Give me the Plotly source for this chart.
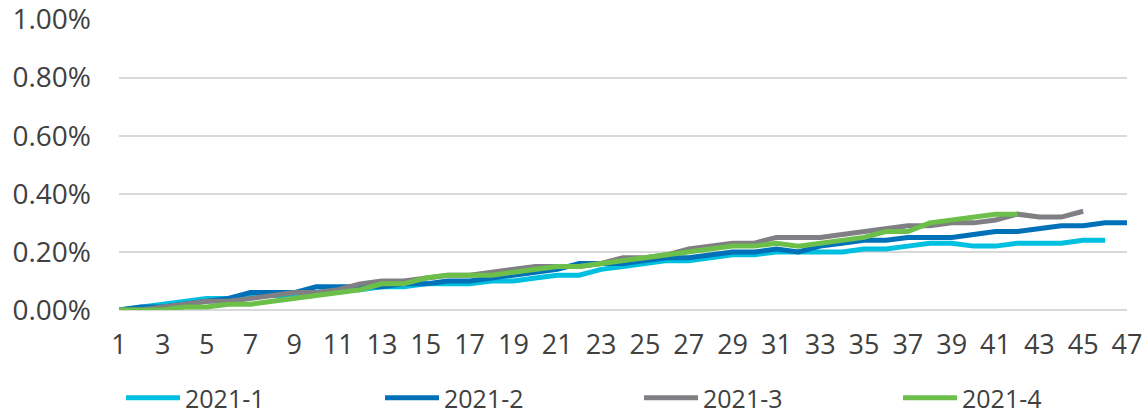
import plotly.graph_objects as go

periods = list(range(1, 48))

# values in percent
s2021_1 = [0.00, 0.01, 0.02, 0.03, 0.04, 0.04, 0.05, 0.05, 0.05, 0.06, 0.07, 0.07, 0.08, 0.08, 0.09, 0.09,
           0.09, 0.10, 0.10, 0.11, 0.12, 0.12, 0.14, 0.15, 0.16, 0.17, 0.17, 0.18, 0.19, 0.19, 0.20, 0.20,
           0.20, 0.20, 0.21, 0.21, 0.22, 0.23, 0.23, 0.22, 0.22, 0.23, 0.23, 0.23, 0.24, 0.24]
s2021_2 = [0.00, 0.01, 0.01, 0.02, 0.03, 0.04, 0.06, 0.06, 0.06, 0.08, 0.08, 0.08, 0.08, 0.09, 0.09, 0.10,
           0.10, 0.11, 0.12, 0.13, 0.14, 0.16, 0.16, 0.16, 0.17, 0.18, 0.18, 0.19, 0.20, 0.20, 0.21, 0.20,
           0.22, 0.23, 0.24, 0.24, 0.25, 0.25, 0.25, 0.26, 0.27, 0.27, 0.28, 0.29, 0.29, 0.30, 0.30]
s2021_3 = [0.00, 0.00, 0.01, 0.02, 0.03, 0.03, 0.04, 0.05, 0.06, 0.06, 0.07, 0.09, 0.10, 0.10, 0.11, 0.12,
           0.12, 0.13, 0.14, 0.15, 0.15, 0.15, 0.16, 0.18, 0.18, 0.19, 0.21, 0.22, 0.23, 0.23, 0.25, 0.25,
           0.25, 0.26, 0.27, 0.28, 0.29, 0.29, 0.30, 0.30, 0.31, 0.33, 0.32, 0.32, 0.34]
s2021_4 = [0.00, 0.00, 0.00, 0.01, 0.01, 0.02, 0.02, 0.03, 0.04, 0.05, 0.06, 0.07, 0.09, 0.09, 0.11, 0.12,
           0.12, 0.12, 0.13, 0.14, 0.15, 0.15, 0.16, 0.17, 0.18, 0.19, 0.20, 0.21, 0.22, 0.22, 0.23, 0.22,
           0.23, 0.24, 0.25, 0.27, 0.27, 0.30, 0.31, 0.32, 0.33, 0.33]

y_ticks = [0.0, 0.2, 0.4, 0.6, 0.8, 1.0]

series = [
    ("2021-1", s2021_1, "#00BFDF", 190),
    ("2021-2", s2021_2, "#0070B8", 190),
    ("2021-3", s2021_3, "#7F7F84", 190),
    ("2021-4", s2021_4, "#6CC04A", 100),
]

FONT = "Open Sans"
TXT = "#404040"

fig = go.Figure()
for name, vals, color, lw in series:
    fig.add_trace(go.Scatter(
        x=periods[:len(vals)], y=vals, name=name, mode="lines",
        line=dict(color=color, width=5),
        legendwidth=lw,
    ))

fig.update_layout(
    width=1145, height=414,
    margin=dict(l=119, r=18, t=19, b=104, autoexpand=False),
    plot_bgcolor="white", paper_bgcolor="white",
    font=dict(family=FONT, size=27, color=TXT),
    showlegend=True,
    legend=dict(
        orientation="h", xref="container", yref="container",
        x=0.1057, y=0.0386, xanchor="left", yanchor="middle",
        itemwidth=54,
        font=dict(family=FONT, size=25, color=TXT),
        itemclick=False, itemdoubleclick=False,
    ),
    xaxis=dict(
        range=[1, 47], tick0=1, dtick=2, showgrid=False, zeroline=False,
        showline=False, ticks="", ticklabelstandoff=16,
        tickfont=dict(family=FONT, size=27, color=TXT),
    ),
    yaxis=dict(
        range=[0, 1.002], tickmode="array", tickvals=y_ticks,
        ticktext=[f"{v:.2f}%" for v in y_ticks],
        showgrid=True, gridcolor="#D9D9D9", gridwidth=1.5,
        zeroline=True, zerolinecolor="#D9D9D9", zerolinewidth=1.5,
        showline=False, ticks="", ticklabelstandoff=27,
        ticklabeloverflow="allow",
        tickfont=dict(family=FONT, size=28, color=TXT),
    ),
)

# remove the browser's default 8px body margin so the figure fills the window
fig.write_html(
    "out.html",
    config={"displayModeBar": False},
    post_script="document.body.style.margin='0';document.body.style.overflow='hidden';",
)
